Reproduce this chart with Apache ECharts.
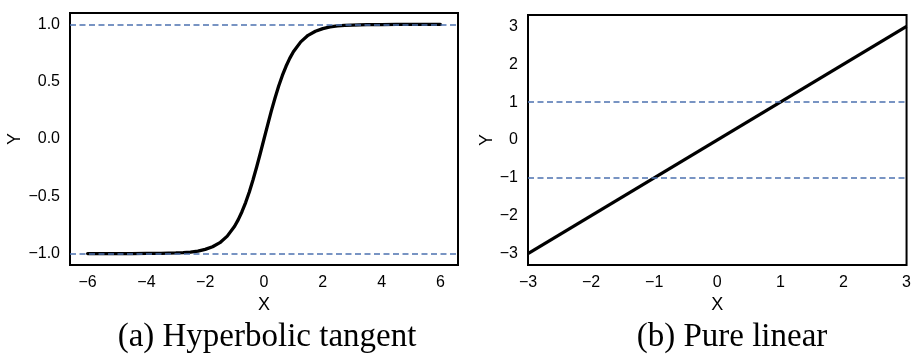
<!DOCTYPE html>
<html><head><meta charset="utf-8">
<script src="https://cdn.jsdelivr.net/npm/echarts@6/dist/echarts.min.js"></script>
<style>html,body{margin:0;padding:0;background:#fff}#c{width:914px;height:356px}</style>
</head><body><div id="c"></div>
<script>
// Panel (a): hyperbolic tangent
const tanhX = [-6,-5.5,-5,-4.5,-4,-3.5,-3,-2.75,-2.5,-2.25,-2,-1.75,-1.5,-1.25,-1,-0.875,-0.75,-0.625,-0.5,-0.375,-0.25,-0.125,0,0.125,0.25,0.375,0.5,0.625,0.75,0.875,1,1.25,1.5,1.75,2,2.25,2.5,2.75,3,3.5,4,4.5,5,5.5,6];
const tanhY = [-1,-1,-1,-1,-0.999,-0.998,-0.995,-0.992,-0.987,-0.978,-0.964,-0.941,-0.905,-0.848,-0.762,-0.704,-0.635,-0.555,-0.462,-0.358,-0.245,-0.124,0,0.124,0.245,0.358,0.462,0.555,0.635,0.704,0.762,0.848,0.905,0.941,0.964,0.978,0.987,0.992,0.995,0.998,0.999,1,1,1,1];
const tanhRefLines = [1, -1];
const tanhXTicks = [-6,-4,-2,0,2,4,6];
const tanhYTicks = [-1,-0.5,0,0.5,1];
const tanhCaption = '(a) Hyperbolic tangent';

// Panel (b): pure linear
const linX = [-3, 3];
const linY = [-3, 3];
const linRefLines = [1, -1];
const linXTicks = [-3,-2,-1,0,1,2,3];
const linYTicks = [-3,-2,-1,0,1,2,3];
const linCaption = '(b) Pure linear';

const MINUS = '\u2212';
const fmt1 = v => (v < 0 ? MINUS : '') + Math.abs(v).toFixed(1);
const fmt0 = v => (v < 0 ? MINUS : '') + Math.abs(Math.round(v));
const fmtInt = v => (v < 0 ? MINUS : '') + Math.abs(v);

const tickFont = {fontFamily: 'Liberation Sans', fontSize: 16, color: '#000'};
const nameFont = {fontFamily: 'Liberation Sans', fontSize: 18, color: '#000'};
const blue = '#4c72b0';

function xAxis(gi, min, max, ticks, fmt) {
  return {type: 'value', gridIndex: gi, min, max, name: 'X', nameLocation: 'middle', nameGap: 30,
    nameTextStyle: nameFont, splitLine: {show: false}, axisLine: {show: false}, axisTick: {show: false},
    axisLabel: Object.assign({margin: 10, customValues: ticks, formatter: fmt, alignMinLabel: 'center', alignMaxLabel: 'center'}, tickFont)};
}
function yAxis(gi, min, max, ticks, fmt, gap) {
  return {type: 'value', gridIndex: gi, min, max, name: 'Y', nameLocation: 'middle', nameGap: gap,
    nameTextStyle: nameFont, splitLine: {show: false}, axisLine: {show: false}, axisTick: {show: false},
    axisLabel: Object.assign({margin: 10, customValues: ticks, formatter: fmt}, tickFont)};
}
function refSeries(gi, vals) {
  return {type: 'line', xAxisIndex: gi, yAxisIndex: gi, data: [], silent: true, z: 1,
    markLine: {silent: true, symbol: ['none','none'], label: {show: false},
      lineStyle: {color: blue, width: 1.5, type: [6, 3.5]},
      data: vals.map(v => ({yAxis: v}))}};
}

const chart = echarts.init(document.getElementById('c'), null, {renderer: 'canvas'});
chart.setOption({
  animation: false,
  grid: [
    {left: 70, top: 13, width: 388, height: 252, show: true, borderColor: '#000', borderWidth: 2, backgroundColor: 'transparent', z: 5},
    {left: 528, top: 15, width: 385, height: 250, show: true, borderColor: '#000', borderWidth: 2, backgroundColor: 'transparent', z: 5}
  ],
  xAxis: [xAxis(0, -6.6, 6.6, tanhXTicks, fmtInt), xAxis(1, -3, 3, linXTicks, fmtInt)],
  yAxis: [yAxis(0, -1.1, 1.1, tanhYTicks, fmt1, 42), yAxis(1, -3.3, 3.3, linYTicks, fmt0, 29)],
  title: [
    {text: tanhCaption, left: 262, top: 316, textAlign: 'center',
      textStyle: {fontFamily: 'Liberation Serif', fontSize: 33, fontWeight: 'normal', color: '#000'}},
    {text: linCaption, left: 727, top: 316, textAlign: 'center',
      textStyle: {fontFamily: 'Liberation Serif', fontSize: 33, fontWeight: 'normal', color: '#000'}}
  ],
  series: [
    refSeries(0, tanhRefLines),
    refSeries(1, linRefLines),
    {type: 'line', xAxisIndex: 0, yAxisIndex: 0, z: 3, showSymbol: false, smooth: false,
      data: tanhX.map((x, i) => [x, tanhY[i]]), lineStyle: {color: '#000', width: 3.3, join: 'round', cap: 'round'}},
    {type: 'line', xAxisIndex: 1, yAxisIndex: 1, z: 3, showSymbol: false,
      data: linX.map((x, i) => [x, linY[i]]), lineStyle: {color: '#000', width: 3.3}}
  ]
});
</script></body></html>
